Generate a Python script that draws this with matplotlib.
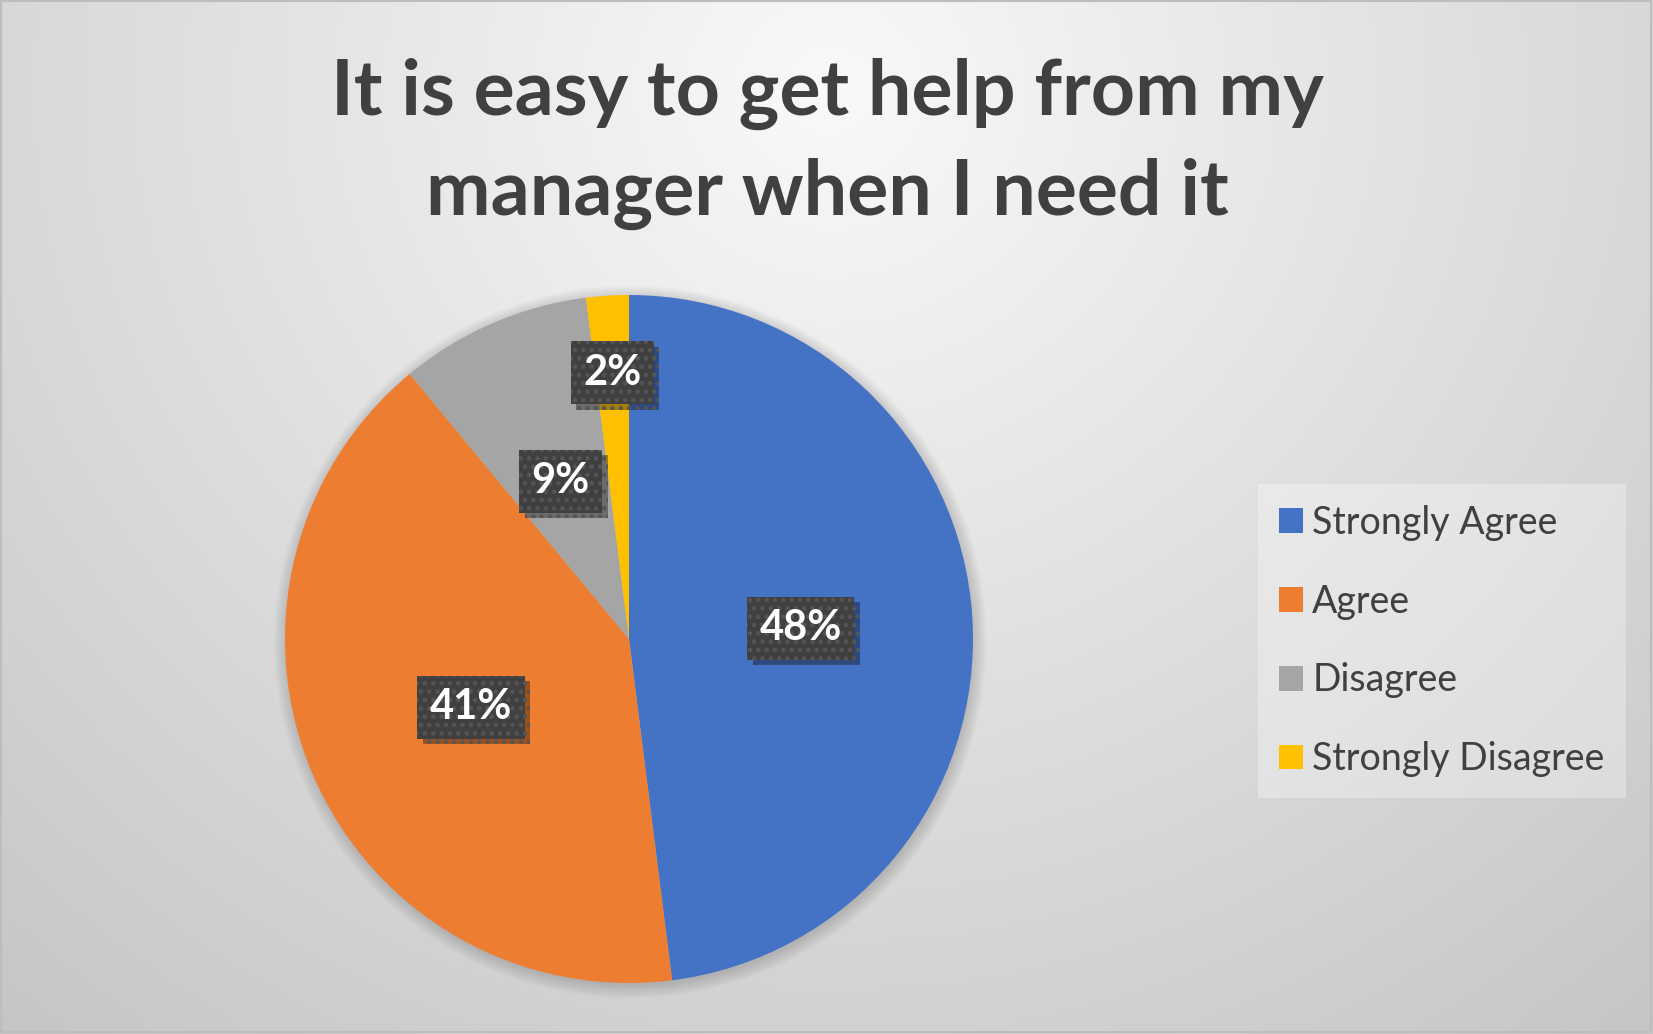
import numpy as np
import matplotlib
matplotlib.use("Agg")
import matplotlib.pyplot as plt
from matplotlib.patches import Rectangle, Circle
import matplotlib.patheffects as pe

# ---- data ----
categories = ["Strongly Agree", "Agree", "Disagree", "Strongly Disagree"]
values = [48, 41, 9, 2]
labels = ["48%", "41%", "9%", "2%"]
colors = ["#4472C4", "#ED7D31", "#A5A5A5", "#FFC000"]
title_lines = ["It is easy to get help from my", "manager when I need it"]

W, H = 1653, 1034
DPI = 100
FONT = "Lato"

fig = plt.figure(figsize=(W / DPI, H / DPI), dpi=DPI)

# ---- background radial gradient ----
bg = fig.add_axes([0, 0, 1, 1], zorder=-10)
yy, xx = np.mgrid[0:H, 0:W]
d = np.sqrt(((xx - 830) / 1.0) ** 2 + ((yy - 90) / 0.95) ** 2)
v = 249 - (d / 1250.0) * 50
v = np.clip(v, 195, 250) / 255.0
bg.imshow(np.dstack([v, v, v]), extent=[0, W, H, 0], aspect="auto", interpolation="bilinear")
bg.set_xlim(0, W)
bg.set_ylim(H, 0)
bg.axis("off")
bg.add_patch(Rectangle((1, 1), W - 3, H - 3, fill=False, ec="#bdbdbd", lw=1.5))

# ---- title ----
for line, base in zip(title_lines, [115, 215]):
    fig.text(827 / W, 1 - base / H, line, ha="center", va="baseline",
             fontsize=55.5, fontweight="bold", color="#404040", family=FONT)

# ---- pie ----
cx, cy, R = 629, 639, 344
ax = fig.add_axes([(cx - R) / W, (H - cy - R) / H, 2 * R / W, 2 * R / H])

wedges, _ = ax.pie(values, colors=colors, startangle=90, counterclock=False,
                   radius=1.0, wedgeprops=dict(linewidth=0), normalize=True)
ax.set_xlim(-1, 1)
ax.set_ylim(-1, 1)
ax.set_aspect("equal")
ax.axis("off")
for w in wedges:
    w.set_zorder(2)

# soft shadow
for i in range(8):
    ax.add_patch(Circle((0.004, -0.008), 1.0 + 0.005 * i, fc="black", ec="none",
                        alpha=0.02, zorder=0, clip_on=False))

dist = [0.5, 0.5, 0.5, 0.775]
matplotlib.rcParams["hatch.linewidth"] = 2.0
for w, lab, r in zip(wedges, labels, dist):
    ang = np.deg2rad((w.theta1 + w.theta2) / 2)
    x, y = r * np.cos(ang), r * np.sin(ang)
    t = ax.text(x, y, lab, ha="center", va="center", fontsize=30, fontweight="bold",
                family=FONT, color="white", zorder=4,
                bbox=dict(boxstyle="square,pad=0.3", fc="#404040", ec="#555555",
                          lw=0, hatch=".."))
    t.get_bbox_patch().set_path_effects([
        pe.SimplePatchShadow(offset=(4, -4), shadow_rgbFace="black", alpha=0.35),
        pe.Normal()])

# ---- legend ----
leg = fig.legend(wedges, categories, loc="upper left",
                 bbox_to_anchor=(1258 / W, 1 - 484 / H),
                 prop=dict(family=FONT, size=27), labelcolor="#404040",
                 frameon=True, facecolor="white", framealpha=0.3,
                 edgecolor="none", fancybox=False,
                 handlelength=0.64, handleheight=0.64, handletextpad=0.25,
                 labelspacing=1.14, borderpad=0.56, borderaxespad=0)

fig.savefig("out.png", dpi=DPI)
